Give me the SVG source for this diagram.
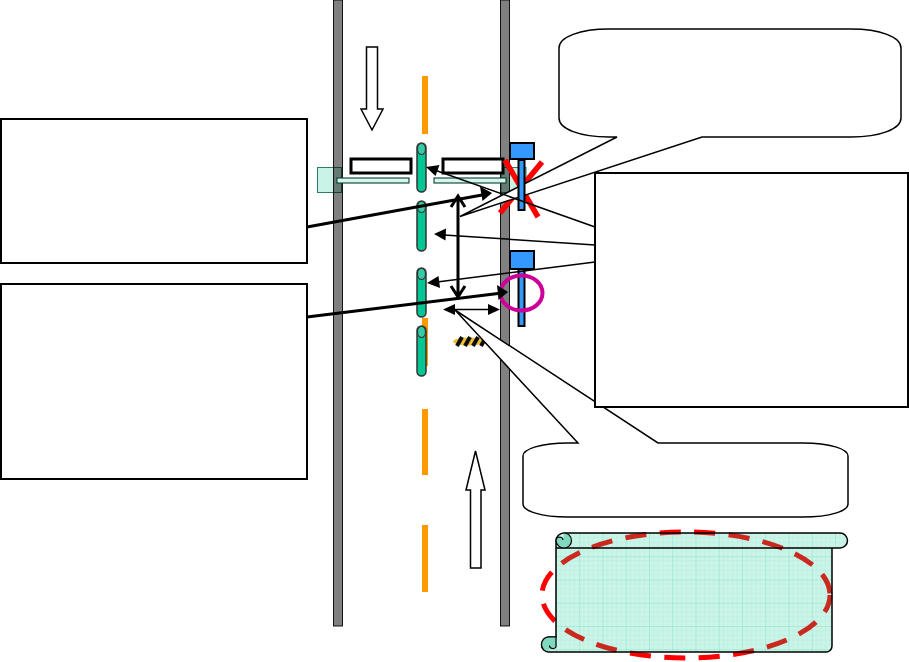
<svg xmlns="http://www.w3.org/2000/svg" width="909" height="662" viewBox="0 0 909 662">
<style>
.road{fill:#808080;stroke:#000;stroke-width:.9}
.dash{fill:#ff9900}
.sq{fill:#c8f3e6;stroke:#2a7d68;stroke-width:1;mix-blend-mode:multiply}
.bar{fill:#d4f6ec;stroke:#0c3b30;stroke-width:1.1}
.rail{fill:#fff;stroke:#000;stroke-width:3}
.cap{fill:#00c594;stroke:#333;stroke-width:1.5}
.capt{fill:#33cca6;stroke:#333;stroke-width:1.2}
.box{fill:#fff;stroke:#000;stroke-width:2}
.call{fill:#fff;stroke:#000;stroke-width:1.5}
.blue{fill:#3399ff;stroke:#000;stroke-width:2}
.x{stroke:#ff0000;stroke-width:5.500;fill:none}
.thin{stroke:#000;stroke-width:1.5;fill:none}
.thick{stroke:#000;stroke-width:3;fill:none}
.head{fill:#000}
.wa{fill:#fff;stroke:#000;stroke-width:1.5}
</style>
<defs>
<pattern id="g" width="23.25" height="23.25" patternUnits="userSpaceOnUse" x="556" y="533">
<rect width="23.25" height="23.25" fill="#ccf4e9"/>
<path d="M4.65 0V23.25M9.3 0V23.25M13.95 0V23.25M18.6 0V23.25M0 4.65H23.25M0 9.3H23.25M0 13.95H23.25M0 18.6H23.25" stroke="#b4eedd" stroke-width=".6" fill="none"/>
<path d="M0 0V23.25M0 0H23.25" stroke="#78e0c2" stroke-width=".9" fill="none"/>
</pattern>
<path id="paper" d="M556 548V541a8 8 0 0 1 8-8H840a7.500 7.500 0 0 1 0 15H832V646a6 6 0 0 1-6 6H549a7.500 7.500 0 0 1 0-15H556Z"/>
<clipPath id="pc"><use href="#paper"/></clipPath>
<ellipse id="oval" cx="686" cy="595" rx="144" ry="63" fill="none" stroke-width="5" stroke-dasharray="21 13.500" stroke-dashoffset="3"/>
<filter id="b" x="-20%" y="-50%" width="140%" height="200%"><feGaussianBlur stdDeviation=".6"/></filter>
</defs>

<g id="road-left"><rect class="road" x="333.500" y="0" width="9" height="626"/></g>
<g id="road-right"><rect class="road" x="500.500" y="0" width="9" height="626"/></g>
<g id="centre-line">
<rect class="dash" x="422" y="76" width="6" height="58"/>
<rect class="dash" x="422" y="318" width="6" height="48"/>
<rect class="dash" x="422" y="409" width="6" height="66"/>
<rect class="dash" x="422" y="525" width="6" height="67"/>
</g>
<g id="hazard" filter="url(#b)">
<ellipse cx="469" cy="341.500" rx="16" ry="4" fill="#f0c030"/>
<path d="M457 346l5-9M465 346l5-9M473 346l5-9M481 346l5-9" stroke="#111" stroke-width="4" fill="none"/>
</g>
<g id="barrier-left">
<rect class="sq" x="317.500" y="167.500" width="24" height="25"/>
<rect class="bar" x="337" y="178" width="72" height="5"/>
<rect class="rail" x="351" y="159" width="60" height="14"/>
</g>
<g id="barrier-right">
<rect class="sq" x="501" y="167.500" width="25" height="25"/>
<rect class="bar" x="434" y="178" width="72" height="5"/>
<rect class="rail" x="443" y="159" width="60" height="14"/>
</g>
<g id="median-1"><rect class="cap" x="417" y="143" width="9" height="49" rx="4.500"/><ellipse class="capt" cx="421.500" cy="149" rx="4" ry="5.500"/></g>
<g id="median-2"><rect class="cap" x="417" y="201" width="9" height="50" rx="4.500"/><ellipse class="capt" cx="421.500" cy="207" rx="4" ry="5.500"/></g>
<g id="median-3"><rect class="cap" x="417" y="268" width="9" height="49" rx="4.500"/><ellipse class="capt" cx="421.500" cy="274" rx="4" ry="5.500"/></g>
<g id="median-4"><rect class="cap" x="417" y="326" width="9" height="50" rx="4.500"/><ellipse class="capt" cx="421.500" cy="332" rx="4" ry="5.500"/></g>

<g id="cross"><path class="x" d="M505 160L538 217M542 162L500 213"/></g>

<g id="callout-top"><path class="call" d="M609 29H851C880 29 901 37 901 48V118C901 129 880 137 851 137H702L460 216.500L617 137H609C580 137 559 129 559 118V48C559 37 580 29 609 29Z"/></g>
<g id="callout-bottom"><path class="call" d="M568 443H578L455 310L658 443H803C830 443 848 449 848 456V504C848 511 830 517 803 517H568C541 517 523 511 523 504V456C523 449 541 443 568 443Z"/></g>

<g id="signal-1"><rect class="blue" x="518.500" y="160" width="6" height="50"/><rect class="blue" x="510" y="143" width="24" height="16"/></g>
<g id="signal-2"><rect class="blue" x="518.500" y="269" width="6" height="57"/><rect class="blue" x="510" y="251" width="24" height="18"/></g>
<g id="ring"><ellipse cx="521.500" cy="293" rx="21" ry="17.500" fill="none" stroke="#cc0099" stroke-width="4"/></g>

<g id="connectors">
<path class="thin" d="M595 227L436 170.500"/><path class="head" d="M426 167L439.500 165L435.500 176Z"/>
<path class="thin" d="M595 245L444 235"/><path class="head" d="M434 234L446 228.500L445.500 240.500Z"/>
<path class="thin" d="M595 262L437 282"/><path class="head" d="M427 283L438.500 276L440 288Z"/>
<path class="thick" d="M307 227L482 195"/><path class="head" d="M492 193L480 186.500L482.500 201Z"/>
<path class="thick" d="M307 317L498 293.500"/><path class="head" d="M508 292L497 285L498.500 300Z"/>
<path class="thick" d="M458 196V297M451 207L458 196L465 207M451 286L458 297L465 286"/>
<path class="thin" d="M452 309.500H491"/><path class="head" d="M443 309.500L455 304V315ZM500 309.500L488 304V315Z"/>
</g>

<g id="box-left-top"><rect class="box" x="1" y="119" width="306" height="144"/></g>
<g id="box-left-bottom"><rect class="box" x="1" y="284" width="306" height="195"/></g>
<g id="box-right"><rect class="box" x="595" y="173" width="313" height="234"/></g>

<g id="arrow-down"><path class="wa" d="M366.500 47H377.500V109H383L372 130L361 109H366.500Z"/></g>
<g id="arrow-up"><path class="wa" d="M470.500 568H481V490H485L475.500 451L466 490H470.500Z"/></g>

<g id="scroll-note">
<use href="#oval" stroke="#ff0000"/>
<use href="#paper" fill="url(#g)"/>
<g clip-path="url(#pc)"><use href="#oval" stroke="#c9291f"/></g>
<path d="M556 548V541a8 8 0 0 1 8-8H840a7.500 7.500 0 0 1 0 15H832V646a6 6 0 0 1-6 6H549a7.500 7.500 0 0 1 0-15H556ZM556 548H832" fill="none" stroke="#000" stroke-width="1.500"/>
<path d="M564 533a7.500 7.500 0 0 1 0 15a8 8 0 0 1-8-7.500a4 4 0 0 1 4-3.500a3.500 3.500 0 0 1 3 3" fill="#7fd8bf" stroke="#000" stroke-width="1.200"/>
<path d="M549 652a7.500 7.500 0 0 1 0-15h7V647a3.500 3.500 0 0 1-3.500 1.500a3 3 0 0 1-3-3" fill="#7fd8bf" stroke="#000" stroke-width="1.200"/>
</g>
</svg>
